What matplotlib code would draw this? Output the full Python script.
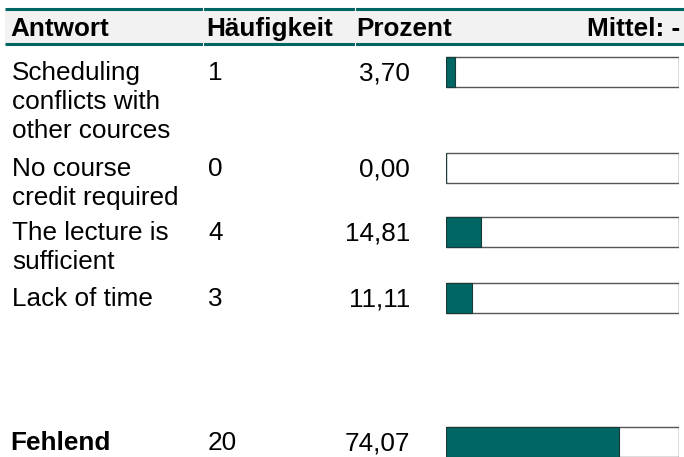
import matplotlib.pyplot as plt
from matplotlib.patches import Rectangle

plt.rcParams['font.family'] = ['Liberation Sans', 'DejaVu Sans']

# table content
headers = ['Antwort', 'Häufigkeit', 'Prozent', 'Mittel: -']
answers = ['Scheduling\nconflicts with\nother cources',
           'No course\ncredit required',
           'The lecture is\nsufficient',
           'Lack of time']
counts = [1, 0, 4, 3]
percents = [3.70, 0.00, 14.81, 11.11]
missing_label = 'Fehlend'
missing_count = 20
missing_pct = 74.07

teal = '#006663'
fs = 18.8

fig = plt.figure(figsize=(6.84, 4.57), dpi=100)
ax = fig.add_axes([0, 0, 1, 1])
ax.set_xlim(0, 684)
ax.set_ylim(457, 0)
ax.axis('off')

# header band
ax.add_patch(Rectangle((5, 9), 679, 35, color='#f2f2f2', lw=0))
ax.plot([5, 684], [9, 9], color=teal, lw=2.2, solid_capstyle='butt')
ax.plot([5, 684], [44, 44], color=teal, lw=2.2, solid_capstyle='butt')
for xs in [203, 355]:
    ax.plot([xs, xs], [7.5, 10.5], color='white', lw=0.8)
    ax.plot([xs, xs], [42.5, 45.5], color='white', lw=0.8)

ax.text(10, 36, headers[0], fontsize=fs, fontweight='bold', va='baseline')
ax.text(206, 36, headers[1], fontsize=fs, fontweight='bold', va='baseline')
ax.text(356, 36, headers[2], fontsize=fs, fontweight='bold', va='baseline')
ax.text(680, 36, headers[3], fontsize=fs, fontweight='bold', va='baseline', ha='right')

# bar column axes: 0..100 percent
bx0, bx1 = 446, 679
bax = fig.add_axes([bx0 / 684, 0, (bx1 - bx0) / 684, 1])
bax.set_xlim(0, 100)
bax.set_ylim(457, 0)
bax.axis('off')


def draw_bar(yb, p):
    # outline box for 100 %, filled part for the value
    bax.barh(yb - 8, 100, height=30, left=0, color='white', edgecolor='#555555', lw=1)
    bax.barh(yb - 8, p, height=30, left=0, color=teal, edgecolor='#1a3a3a', lw=0.8)


baselines = [80, 176, 240, 306]
line_h = 29
for ans, c, p, yb in zip(answers, counts, percents, baselines):
    for k, line in enumerate(ans.split('\n')):
        ax.text(12, yb + k * line_h, line, fontsize=fs, va='baseline')
    ax.text(208, yb, str(c), fontsize=fs, va='baseline')
    ax.text(410, yb, f'{p:.2f}'.replace('.', ','), fontsize=fs, va='baseline', ha='right')
    draw_bar(yb, p)

yb = 450
ax.text(10, yb, missing_label, fontsize=fs, fontweight='bold', va='baseline')
ax.text(208, yb, str(missing_count), fontsize=fs, va='baseline')
ax.text(410, yb, f'{missing_pct:.2f}'.replace('.', ','), fontsize=fs, va='baseline', ha='right')
draw_bar(yb, missing_pct)

fig.savefig('out.png', dpi=100)
